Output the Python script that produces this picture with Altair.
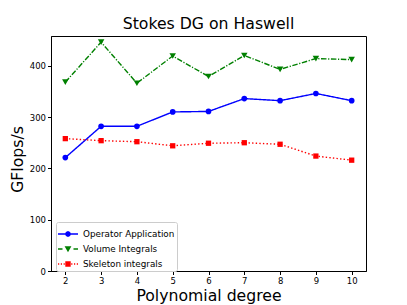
import altair as alt
import pandas as pd

degrees = [2, 3, 4, 5, 6, 7, 8, 9, 10]
operator_application = [221, 282, 282, 310, 311, 336, 332, 346, 332]
volume_integrals = [368, 446, 366, 419, 379, 420, 393, 414, 412]
skeleton_integrals = [258, 254, 252, 244, 249, 250, 247, 224, 216]
series_names = ["Operator Application", "Volume Integrals", "Skeleton integrals"]
series_colors = ["#0000ff", "#008000", "#ff0000"]
series_dashes = [[1, 0], [5.5, 1.6, 1.2, 1.6], [1.4, 2.2]]
marker_shapes = ["circle", "triangle-down", "square"]
marker_sizes = [32, 42, 28]

rows = []
for name, vals in zip(series_names, [operator_application, volume_integrals, skeleton_integrals]):
    for d, v in zip(degrees, vals):
        rows.append({"series": name, "degree": d, "gflops": v})
df = pd.DataFrame(rows)

FONT = "DejaVu Sans"

x_enc = alt.X("degree:Q",
              scale=alt.Scale(domain=[1.6, 10.4], nice=False, zero=False),
              axis=alt.Axis(values=degrees, title="Polynomial degree", format="d",
                            labelOverlap=False, titleY=29, titleBaseline="alphabetic"))
y_enc = alt.Y("gflops:Q",
              scale=alt.Scale(domain=[0, 458], nice=False),
              axis=alt.Axis(values=[0, 100, 200, 300, 400], title="GFlops/s",
                            labelOverlap=False,
                            titleX=-29, titleY=123, titleAngle=270,
                            titleBaseline="alphabetic", titleAlign="center"))

layers = []
for name, col, dash in zip(series_names, series_colors, series_dashes):
    layers.append(
        alt.Chart(df).transform_filter(alt.datum.series == name).mark_line(
            strokeWidth=1.4, color=col, strokeDash=dash
        ).encode(x=x_enc, y=y_enc)
    )
for name, col, shp, sz in zip(series_names, series_colors, marker_shapes, marker_sizes):
    layers.append(
        alt.Chart(df).transform_filter(alt.datum.series == name).mark_point(
            filled=True, opacity=1, shape=shp, size=sz, color=col
        ).encode(x=x_enc, y=y_enc)
    )

# legend glyphs: line (as thin filled bars) + marker, in [-1,1] symbol units
legend_paths = [
    "M-1,-0.07L1,-0.07L1,0.07L-1,0.07Z"
    "M0.3,0L0.21,0.21L0,0.3L-0.21,0.21L-0.3,0L-0.21,-0.21L0,-0.3L0.21,-0.21Z",
    "M-1,-0.07L-0.55,-0.07L-0.55,0.07L-1,0.07Z"
    "M0.55,-0.07L1,-0.07L1,0.07L0.55,0.07Z"
    "M-0.34,-0.28L0.34,-0.28L0,0.32Z",
    "M-1,-0.07L-0.88,-0.07L-0.88,0.07L-1,0.07Z"
    "M-0.72,-0.07L-0.6,-0.07L-0.6,0.07L-0.72,0.07Z"
    "M-0.44,-0.07L-0.32,-0.07L-0.32,0.07L-0.44,0.07Z"
    "M0.32,-0.07L0.44,-0.07L0.44,0.07L0.32,0.07Z"
    "M0.6,-0.07L0.72,-0.07L0.72,0.07L0.6,0.07Z"
    "M0.88,-0.07L1,-0.07L1,0.07L0.88,0.07Z"
    "M-0.27,-0.27L0.27,-0.27L0.27,0.27L-0.27,0.27Z",
]

leg = alt.Legend(title=None, orient="none", legendX=5, legendY=186,
                 symbolSize=400, symbolStrokeWidth=0, labelFontSize=8.8,
                 labelFont=FONT, labelColor="black", labelOffset=5,
                 padding=2, rowPadding=-3, fillColor="white",
                 strokeColor="#cccccc", cornerRadius=2)

legend_layer = alt.Chart(df).transform_filter("false").mark_point(
    filled=True, opacity=1).encode(
    x=x_enc, y=y_enc,
    color=alt.Color("series:N",
                    scale=alt.Scale(domain=series_names, range=series_colors),
                    legend=leg),
    shape=alt.Shape("series:N",
                    scale=alt.Scale(domain=series_names, range=legend_paths),
                    legend=leg),
)
layers.append(legend_layer)

chart = alt.layer(*layers).properties(
    width=315, height=235,
    autosize=alt.AutoSizeParams(type="none"),
    padding={"left": 43, "top": 28, "right": 33, "bottom": 34},
    title=alt.Title("Stokes DG on Haswell", fontSize=15.7, font=FONT,
                    fontWeight="normal", color="black", offset=3,
                    anchor="middle", frame="group"),
).configure(
    background="white"
).configure_view(
    stroke="black", strokeWidth=1
).configure_axis(
    grid=False, domainColor="black", domainWidth=1, tickColor="black",
    tickSize=3.5, tickWidth=1, labelFont=FONT, labelFontSize=8.5,
    labelColor="black", labelPadding=2, titleFont=FONT, titleFontSize=15.7,
    titleFontWeight="normal", titleColor="black"
)

chart.save("out.html", embed_options={"renderer": "svg", "actions": False})
